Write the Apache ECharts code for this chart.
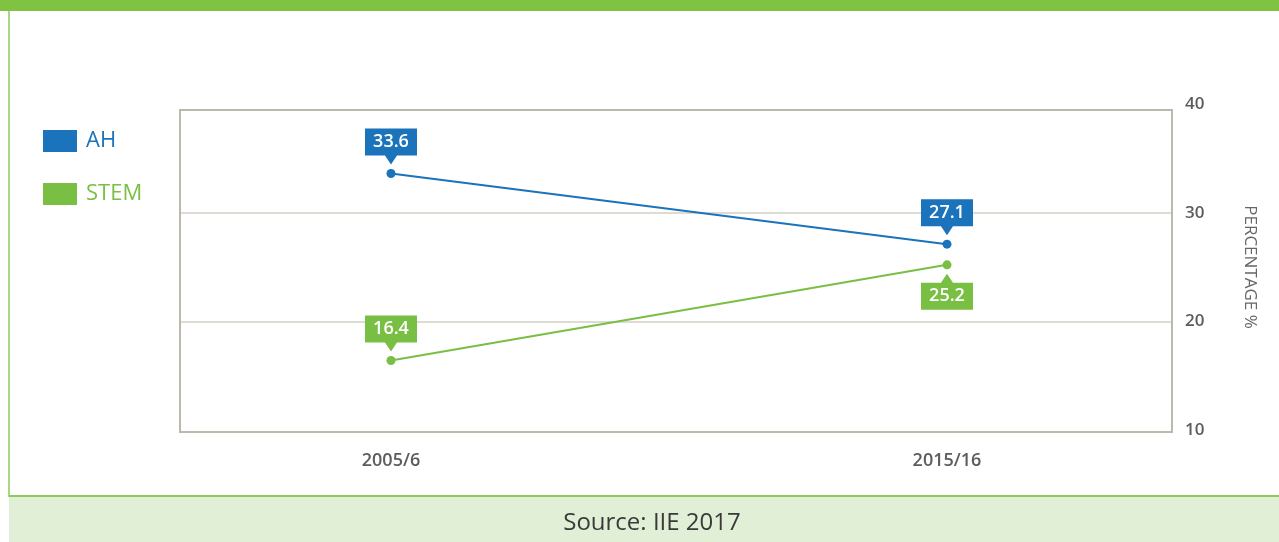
<!DOCTYPE html>
<html>
<head>
<meta charset="utf-8">
<script src="https://cdn.jsdelivr.net/npm/echarts@6/dist/echarts.min.js"></script>
<style>
  html, body { margin: 0; padding: 0; background: #fff; }
  #chart { width: 1279px; height: 542px; }
</style>
</head>
<body>
<div id="chart"></div>
<script>
// data
const years = ['2005/6', '2015/16'];
const ahValues = [33.6, 27.1];
const stemValues = [16.4, 25.2];
const yTicks = [10, 20, 30, 40];
// which tags hang below their point (the two 2015/16 values sit too close together)
const stemTagBelow = [false, true];

const BLUE = '#1a73bb';
const GREEN = '#79bf43';
const FONT = '"Open Sans", sans-serif';

// callout shapes: box with a little pointer
const calloutDown = 'path://M0,0L52,0L52,27L32,27L26,36L20,27L0,27Z';
const calloutUp = 'path://M0,9L20,9L26,0L32,9L52,9L52,36L0,36Z';

const toPts = vals => vals.map((v, i) => [i, v]);

function tagSeries(name, vals, color, below) {
  return {
    name: name,
    type: 'scatter',
    data: vals.map((v, i) => {
      const b = below && below[i];
      return {
        value: [i, v],
        symbol: b ? calloutUp : calloutDown,
        symbolOffset: [0, b ? 27 : -27],
        label: { offset: [0, b ? 4.5 : -4.5] }
      };
    }),
    symbolSize: [52, 36],
    itemStyle: { color: color, opacity: 1 },
    z: 4,
    silent: true,
    label: {
      show: true,
      position: 'inside',
      color: '#fff',
      fontFamily: FONT,
      fontSize: 18,
      fontWeight: 600,
      formatter: p => p.value[1].toFixed(1)
    }
  };
}

function lineSeries(name, vals, color) {
  return {
    name: name,
    type: 'line',
    data: toPts(vals),
    symbol: 'circle',
    symbolSize: 9,
    lineStyle: { color: color, width: 2 },
    itemStyle: { color: color },
    z: 3
  };
}

const chart = echarts.init(document.getElementById('chart'));
chart.setOption({
  animation: false,
  backgroundColor: '#fff',
  textStyle: { fontFamily: FONT },
  grid: { left: 179, right: 106, top: 104, bottom: 112, show: false },
  legend: {
    orient: 'vertical',
    left: 38,
    top: 125,
    icon: 'rect',
    itemWidth: 34,
    itemHeight: 22,
    itemGap: 31,
    selectedMode: false,
    textStyle: { fontSize: 22, padding: [0, 0, 0, 4], fontFamily: FONT },
    data: [
      { name: 'AH', textStyle: { color: BLUE } },
      { name: 'STEM', textStyle: { color: GREEN } }
    ]
  },
  xAxis: {
    type: 'value',
    min: -0.3813,
    max: 1.4065,
    axisLine: { show: false },
    axisTick: { show: false },
    splitLine: { show: false },
    axisLabel: {
      customValues: years.map((y, i) => i),
      formatter: v => years[Math.round(v)],
      margin: 22,
      color: '#5c5c5c',
      fontSize: 18,
      fontWeight: 600,
      fontFamily: FONT
    }
  },
  yAxis: {
    type: 'value',
    position: 'right',
    min: yTicks[0],
    max: yTicks[yTicks.length - 1],
    interval: 10,
    name: 'PERCENTAGE %',
    nameLocation: 'middle',
    nameRotate: -90,
    nameGap: 68,
    nameTextStyle: { color: '#666', fontSize: 17, fontFamily: FONT },
    axisLine: { show: false },
    axisTick: { show: false },
    axisLabel: { margin: 12, color: '#5c5c5c', fontSize: 17, fontWeight: 600, fontFamily: FONT },
    splitLine: {
      show: true,
      showMinLine: false,
      showMaxLine: false,
      lineStyle: { color: '#dddbd2', width: 2 }
    }
  },
  graphic: [
    // top bar
    { type: 'rect', shape: { x: 0, y: 0, width: 1279, height: 11 }, style: { fill: '#80c342' }, z: 0 },
    // left border of panel
    { type: 'rect', shape: { x: 8, y: 11, width: 2, height: 486 }, style: { fill: '#a9d882' }, z: 0 },
    // plot frame
    { type: 'rect', shape: { x: 180, y: 110, width: 992, height: 322 },
      style: { fill: 'rgba(0,0,0,0)', stroke: '#bcb9aa', lineWidth: 2 }, z: 5 },
    // footer
    { type: 'rect', shape: { x: 9, y: 496, width: 1270, height: 46 }, style: { fill: '#e1efd6' }, z: 0 },
    { type: 'rect', shape: { x: 9, y: 495, width: 1270, height: 2 }, style: { fill: '#8ccb57' }, z: 0 },
    { type: 'text', x: 652, y: 523,
      style: { text: 'Source: IIE 2017', fill: '#3a3a3a', font: '24px ' + FONT, align: 'center', verticalAlign: 'middle' }, z: 1 }
  ],
  series: [
    lineSeries('AH', ahValues, BLUE),
    lineSeries('STEM', stemValues, GREEN),
    tagSeries('AH', ahValues, BLUE, null),
    tagSeries('STEM', stemValues, GREEN, stemTagBelow)
  ]
});
</script>
</body>
</html>
